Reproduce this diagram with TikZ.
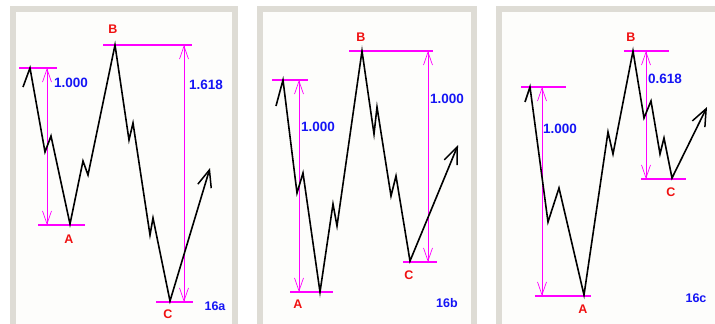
\documentclass[tikz,border=0pt]{standalone}
\usepackage{fontspec}
\setmainfont{Liberation Sans}
\usetikzlibrary{arrows.meta}
\definecolor{framegray}{HTML}{DEDCD5}
\definecolor{panelbg}{HTML}{FDFDFB}
\definecolor{mag}{HTML}{FF00FF}
\definecolor{lblred}{HTML}{F01010}
\definecolor{lblblue}{HTML}{1515F5}
\tikzset{
  panel/.style={draw=framegray,line width=6pt,fill=panelbg},
  wave/.style={black,line width=1.6pt,line join=miter,-{Straight Barb[length=17pt,width=14pt,line width=1.5pt]}},
  level/.style={mag,line width=1.1pt},
  measure/.style={mag,line width=0.9pt,{Straight Barb[length=13pt,width=9pt,line width=0.7pt]}-{Straight Barb[length=13pt,width=9pt,line width=0.7pt]}},
  ratio/.style={text=lblblue,font=\bfseries\fontsize{13.5}{15}\selectfont,inner sep=0pt},
  pt/.style={text=lblred,font=\bfseries\fontsize{12.5}{14}\selectfont,inner sep=0pt},
  tag/.style={text=lblblue,font=\bfseries\fontsize{12.5}{14}\selectfont,inner sep=0pt}
}
\begin{document}
\begin{tikzpicture}[x=1pt,y=-1pt]
\useasboundingbox (0,0) rectangle (715,324);
\begin{scope}
\clip (0,0) rectangle (715,324);
\fill[white] (0,0) rectangle (715,324);
\draw[panel] (13,9) rectangle (235,340);
\draw[panel] (260,9) rectangle (474,340);
\draw[panel] (499,9) rectangle (730,340);
\end{scope}

% ---------- Panel 16a ----------
\draw[level] (19,68) -- (57,68);
\draw[level] (38,225) -- (85,225);
\draw[level] (103,45) -- (192,45);
\draw[level] (156,302) -- (193,302);
\coordinate (a1t) at (47,68); \coordinate (a1b) at (47,225);
\coordinate (a2t) at (184,45); \coordinate (a2b) at (184,302);
\draw[measure] (a1t) -- (a1b);
\draw[measure] (a2t) -- (a2b);
\draw[wave] (23,87) -- (30,68) -- (45,152) -- (51,136) -- (70,224) -- (83,161) -- (88,175)
  -- (115,45) -- (129,140) -- (133,123) -- (150,235) -- (153,218) -- (170,301) -- (210,168);
\node[ratio] (r1a) at (71,83) {1.000};
\node[ratio] (r2a) at (206,85) {1.618};
\node[pt] (Ba) at (113,29) {B};
\node[pt] (Aa) at (69,239) {A};
\node[pt] (Ca) at (168,314) {C};
\node[tag] (ta) at (215,306) {16a};

% ---------- Panel 16b ----------
\draw[level] (272,80) -- (308,80);
\draw[level] (290,292) -- (333,292);
\draw[level] (349,51) -- (433,51);
\draw[level] (403,262) -- (437,262);
\coordinate (b1t) at (299,80); \coordinate (b1b) at (299,292);
\coordinate (b2t) at (428,51); \coordinate (b2b) at (428,262);
\draw[measure] (b1t) -- (b1b);
\draw[measure] (b2t) -- (b2b);
\draw[wave] (276,106) -- (283,80) -- (297,193) -- (303,173) -- (320,292) -- (333,204) -- (337,226)
  -- (362,51) -- (374,134) -- (377,107) -- (391,196) -- (396,176) -- (410,261) -- (458,145);
\node[ratio] (r1b) at (318,127) {1.000};
\node[ratio] (r2b) at (447,99) {1.000};
\node[pt] (Bb) at (361,37) {B};
\node[pt] (Ab) at (298,304) {A};
\node[pt] (Cb) at (409,275) {C};
\node[tag] (tb) at (447,303) {16b};

% ---------- Panel 16c ----------
\draw[level] (521,87) -- (566,87);
\draw[level] (535,296) -- (591,296);
\draw[level] (624,51) -- (669,51);
\draw[level] (641,179) -- (686,179);
\coordinate (c1t) at (542,87); \coordinate (c1b) at (542,296);
\coordinate (c2t) at (646,51); \coordinate (c2b) at (646,179);
\draw[measure] (c1t) -- (c1b);
\draw[measure] (c2t) -- (c2b);
\draw[wave] (525,102) -- (530,87) -- (548,222) -- (559,188) -- (584,295) -- (608,132) -- (613,154)
  -- (633,51) -- (644,118) -- (651,101) -- (660,154) -- (664,138) -- (672,178) -- (707,107);
\node[ratio] (r1c) at (560,129) {1.000};
\node[ratio] (r2c) at (665,79) {0.618};
\node[pt] (Bc) at (631,37) {B};
\node[pt] (Ac) at (583,309) {A};
\node[pt] (Cc) at (671,192) {C};
\node[tag] (tc) at (696,298) {16c};
\end{tikzpicture}
\end{document}
